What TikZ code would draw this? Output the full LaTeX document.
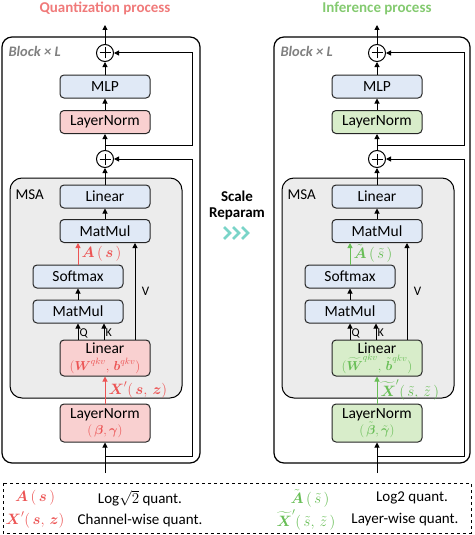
\RequirePackage{fix-cm}
\documentclass[tikz,border=0pt]{standalone}
\usepackage{amsmath}
\usepackage{fontspec}
\setmainfont{Carlito}
\usetikzlibrary{arrows.meta}

\definecolor{quantred}{RGB}{236,84,84}
\definecolor{titlered}{RGB}{240,122,122}
\definecolor{quantpink}{RGB}{249,208,208}
\definecolor{mlpblue}{RGB}{224,233,246}
\definecolor{infgreen}{RGB}{216,237,202}
\definecolor{infgreentxt}{RGB}{104,190,86}
\definecolor{titlegreen}{RGB}{132,202,112}
\definecolor{msagray}{RGB}{236,236,236}
\definecolor{reparamteal}{RGB}{122,212,200}

\tikzset{
  blk/.style={draw=black!85, line width=1pt, rounded corners=4pt, minimum width=90, minimum height=23, inner sep=0pt, align=center, font=\fontsize{15.5}{17}\selectfont},
  bluebox/.style={blk, fill=mlpblue},
  redbox/.style={blk, fill=quantpink},
  greenbox/.style={blk, fill=infgreen},
  addop/.style={draw, circle, line width=1pt, minimum size=17, inner sep=0pt, fill=white,
    path picture={\draw[line width=1pt] (path picture bounding box.center) ++(-5.5pt,0) -- ++(11pt,0)
      (path picture bounding box.center) ++(0,-5.5pt) -- ++(0,11pt);}},
  flow/.style={-{Triangle[length=5pt,width=5pt]}, line width=1pt},
  mathlbl/.style={font=\fontsize{15}{16}\selectfont, inner sep=1pt},
  qklbl/.style={font=\fontsize{12}{13}\selectfont, inner sep=1pt},
}

\begin{document}
\begin{tikzpicture}[x=1pt, y=-1pt]
\useasboundingbox (0,0) rectangle (474,535);

% quantization process
\node[font=\bfseries\fontsize{15}{17}\selectfont, text=titlered] (qtitle) at (105,8) {Quantization process};
\draw[line width=1.2pt, rounded corners=10pt] (2,37) rectangle (200,463);
\draw[fill=msagray, line width=1pt, rounded corners=12pt] (10,178) rectangle (182,398);
\node[anchor=west, font=\bfseries\itshape\fontsize{14.5}{16}\selectfont, text=black!50] (qblk) at (5,51) {Block × L};
\node[anchor=west, font=\fontsize{15}{17}\selectfont] (qmsa) at (12,195) {MSA};

\node[addop] (qadd2) at (105,53) {};
\node[bluebox] (qmlp) at (105,86.5) {MLP};
\node[redbox] (qln1) at (105,122) {LayerNorm};
\node[addop] (qadd1) at (105,159) {};
\node[bluebox] (qlin2) at (105,196.5) {Linear};
\node[bluebox] (qmm2) at (105,231) {MatMul};
\node[bluebox] (qsoft) at (78,276.5) {Softmax};
\node[bluebox] (qmm1) at (78,311.5) {MatMul};
\node[redbox, minimum height=36] (qlin1) at (105,358) {Linear\\[0pt]
  {\color{quantred}\fontsize{13}{14}\selectfont$(\boldsymbol{W}^{qkv},\,\boldsymbol{b}^{qkv})$}};
\node[redbox, minimum height=38] (qln0) at (105,423) {LayerNorm\\[-1pt]
  {\color{quantred}\fontsize{13}{14}\selectfont$(\,\boldsymbol{\beta},\boldsymbol{\gamma})$}};

\coordinate (qin) at (105,473);
\coordinate (qout) at (105,25);
\coordinate (qbr1) at (105,145);
\coordinate (qbr2) at (105,456);

\draw[flow] (qin) -- (qln0);
\draw[flow, quantred] (qln0) -- (qlin1) node[midway, right=2pt, mathlbl, text=quantred] {$\boldsymbol{X}'(\,\boldsymbol{s},\,\boldsymbol{z})$};
\draw[flow] (qmm1.south |- qlin1.north) -- (qmm1.south) node[right=0pt, pos=0.4, qklbl] {Q};
\draw[flow] ([xshift=26]qmm1.south |- qlin1.north) -- ([xshift=26]qmm1.south) node[right=0pt, pos=0.4, qklbl] {K};
\draw[flow] ([xshift=30]qlin1.north) -- ([xshift=30]qlin1.north |- qmm2.south) node[midway, right=3pt, font=\fontsize{13}{14}\selectfont] {V};
\draw[flow] (qmm1) -- (qsoft);
\draw[flow, quantred] (qsoft) -- (qsoft.north |- qmm2.south) node[midway, right=2pt, mathlbl, text=quantred] {$\boldsymbol{A}\,(\,\boldsymbol{s}\,)$};
\draw[flow] (qmm2) -- (qlin2);
\draw[flow] (qlin2) -- (qadd1);
\draw[flow] (qadd1) -- (qln1);
\draw[flow] (qln1) -- (qmlp);
\draw[flow] (qmlp) -- (qadd2);
\draw[flow] (qadd2) -- (qout);
\draw[flow] (qbr1) -- ++(87,0) |- (qadd2);
\draw[flow] (qbr2) -- ++(87,0) |- (qadd1);

% scale reparameterisation
\node[font=\bfseries\fontsize{15}{16}\selectfont, align=center] (reparam) at (237,205) {Scale\\Reparam};
\foreach \k in {0,1,2}
  \draw[reparamteal, line width=2.6pt] (224+9*\k,227) -- (230+9*\k,233) -- (224+9*\k,239);

% inference process
\begin{scope}[xshift=272pt]
\node[font=\bfseries\fontsize{15}{17}\selectfont, text=titlegreen] (ititle) at (105,8) {Inference process};
\draw[line width=1.2pt, rounded corners=10pt] (2,37) rectangle (198,463);
\draw[fill=msagray, line width=1pt, rounded corners=12pt] (10,178) rectangle (182,398);
\node[anchor=west, font=\bfseries\itshape\fontsize{14.5}{16}\selectfont, text=black!50] (iblk) at (5,51) {Block × L};
\node[anchor=west, font=\fontsize{15}{17}\selectfont] (imsa) at (12,195) {MSA};

\node[addop] (iadd2) at (105,53) {};
\node[bluebox] (imlp) at (105,86.5) {MLP};
\node[greenbox] (iln1) at (105,122) {LayerNorm};
\node[addop] (iadd1) at (105,159) {};
\node[bluebox] (ilin2) at (105,196.5) {Linear};
\node[bluebox] (imm2) at (105,231) {MatMul};
\node[bluebox] (isoft) at (78,276.5) {Softmax};
\node[bluebox] (imm1) at (78,311.5) {MatMul};
\node[greenbox, minimum height=36] (ilin1) at (105,358) {Linear\\[0pt]
  {\color{infgreentxt}\fontsize{13}{14}\selectfont$(\widetilde{\boldsymbol{W}}^{qkv},\,\tilde{\boldsymbol{b}}^{qkv})$}};
\node[greenbox, minimum height=38] (iln0) at (105,423) {LayerNorm\\[-1pt]
  {\color{infgreentxt}\fontsize{13}{14}\selectfont$(\,\tilde{\boldsymbol{\beta}},\tilde{\boldsymbol{\gamma}})$}};

\coordinate (iin) at (105,473);
\coordinate (iout) at (105,25);
\coordinate (ibr1) at (105,145);
\coordinate (ibr2) at (105,456);

\draw[flow] (iin) -- (iln0);
\draw[flow, infgreentxt] (iln0) -- (ilin1) node[midway, right=2pt, mathlbl, text=infgreentxt] {$\widetilde{\boldsymbol{X}}'(\,\tilde{s},\,\tilde{z}\,)$};
\draw[flow] (imm1.south |- ilin1.north) -- (imm1.south) node[right=0pt, pos=0.4, qklbl] {Q};
\draw[flow] ([xshift=26]imm1.south |- ilin1.north) -- ([xshift=26]imm1.south) node[right=0pt, pos=0.4, qklbl] {K};
\draw[flow] ([xshift=30]ilin1.north) -- ([xshift=30]ilin1.north |- imm2.south) node[midway, right=3pt, font=\fontsize{13}{14}\selectfont] {V};
\draw[flow] (imm1) -- (isoft);
\draw[flow, infgreentxt] (isoft) -- (isoft.north |- imm2.south) node[midway, right=2pt, mathlbl, text=infgreentxt] {$\tilde{\boldsymbol{A}}\,(\,\tilde{s}\,)$};
\draw[flow] (imm2) -- (ilin2);
\draw[flow] (ilin2) -- (iadd1);
\draw[flow] (iadd1) -- (iln1);
\draw[flow] (iln1) -- (imlp);
\draw[flow] (imlp) -- (iadd2);
\draw[flow] (iadd2) -- (iout);
\draw[flow] (ibr1) -- ++(87,0) |- (iadd2);
\draw[flow] (ibr2) -- ++(87,0) |- (iadd1);
\end{scope}

% legend
\draw[dashed, line width=1pt] (3,483) rectangle (471,533);
\node[mathlbl, text=quantred] (lega) at (35,498) {$\boldsymbol{A}\,(\,\boldsymbol{s}\,)$};
\node[font=\fontsize{15}{17}\selectfont] (legatxt) at (140,498) {Log$\sqrt{2}$ quant.};
\node[mathlbl, text=quantred] (legx) at (35,520) {$\boldsymbol{X}'(\,\boldsymbol{s},\,\boldsymbol{z})$};
\node[font=\fontsize{15}{17}\selectfont] (legxtxt) at (140,520) {Channel-wise quant.};
\node[mathlbl, text=infgreentxt] (legia) at (310,498) {$\tilde{\boldsymbol{A}}\,(\,\tilde{s}\,)$};
\node[font=\fontsize{15}{17}\selectfont] (legiatxt) at (412,498) {Log2 quant.};
\node[mathlbl, text=infgreentxt] (legix) at (306,520) {$\widetilde{\boldsymbol{X}}'(\,\tilde{s},\,\tilde{z}\,)$};
\node[font=\fontsize{15}{17}\selectfont] (legixtxt) at (405,520) {Layer-wise quant.};
\end{tikzpicture}
\end{document}
